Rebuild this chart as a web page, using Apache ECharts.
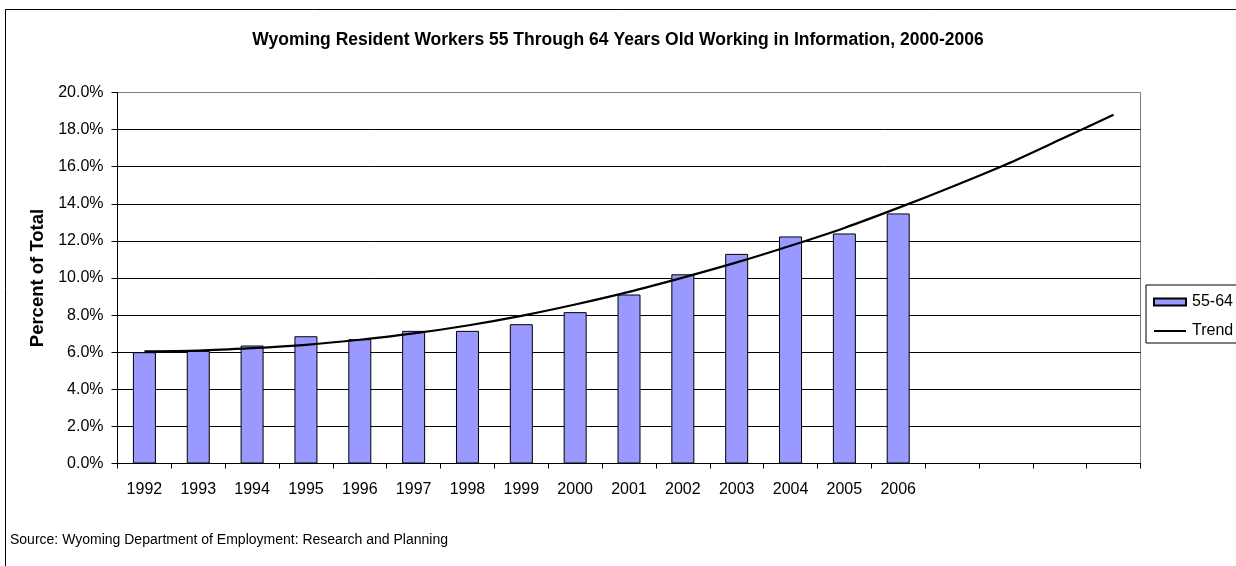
<!DOCTYPE html>
<html>
<head>
<meta charset="utf-8">
<script src="https://cdn.jsdelivr.net/npm/echarts@6/dist/echarts.min.js"></script>
<style>
html,body{margin:0;padding:0;background:#fff;}
#chart{width:1236px;height:566px;}
</style>
</head>
<body>
<div id="chart"></div>
<script>
// Data
var categories = ['1992','1993','1994','1995','1996','1997','1998','1999','2000','2001','2002','2003','2004','2005','2006','','','',''];
var share5564 = [6.0, 6.07, 6.36, 6.86, 6.70, 7.15, 7.15, 7.51, 8.16, 9.11, 10.2, 11.3, 12.24, 12.40, 13.48, null, null, null, null];
var trend = [6.05, 6.09, 6.22, 6.40, 6.67, 7.01, 7.44, 7.96, 8.57, 9.25, 10.02, 10.84, 11.74, 12.70, 13.78, 14.92, 16.12, 17.45, 18.80];
var yTicks = [0, 2, 4, 6, 8, 10, 12, 14, 16, 18, 20];

var FONT = '"Liberation Sans", Arial, sans-serif';
var chart = echarts.init(document.getElementById('chart'), null, {renderer: 'canvas'});

var splitColors = yTicks.map(function (v, i) { return i === yTicks.length - 1 ? '#808080' : '#000'; });

chart.setOption({
  backgroundColor: '#fff',
  animation: false,
  title: {
    text: 'Wyoming Resident Workers 55 Through 64 Years Old Working in Information, 2000-2006',
    left: 'center',
    top: 31,
    padding: 0,
    textStyle: {fontFamily: FONT, fontSize: 17.5, fontWeight: 'bold', color: '#000'}
  },
  legend: {
    orient: 'vertical',
    left: 1146,
    top: 285,
    padding: [9, 12, 4, 7],
    itemGap: 13,
    itemWidth: 32,
    itemHeight: 7,
    symbolKeepAspect: true,
    borderColor: '#000',
    borderWidth: 1,
    textStyle: {fontFamily: FONT, fontSize: 16, color: '#000', padding: [0, 0, 0, 1]},
    data: [
      {name: '55-64', icon: 'rect'},
      {name: 'Trend', icon: 'path://M0,0L32,0L32,2L0,2Z', itemStyle: {color: '#000', borderWidth: 0}}
    ]
  },
  grid: {
    left: 117.5,
    right: 95.5,
    top: 92.5,
    bottom: 102.5,
    show: true,
    borderColor: '#808080',
    borderWidth: 1,
    backgroundColor: '#fff'
  },
  xAxis: {
    type: 'category',
    data: categories,
    boundaryGap: true,
    axisLine: {lineStyle: {color: '#000', width: 1}},
    axisTick: {show: true, interval: 0, length: 5, lineStyle: {color: '#000'}},
    axisLabel: {interval: 0, margin: 18, fontFamily: FONT, fontSize: 16, color: '#000'},
    splitLine: {show: false}
  },
  yAxis: {
    type: 'value',
    min: 0,
    max: 20,
    interval: 2,
    name: 'Percent of Total',
    nameLocation: 'middle',
    nameGap: 63,
    nameTextStyle: {fontFamily: FONT, fontSize: 18.5, fontWeight: 'bold', color: '#000'},
    axisLine: {show: true, lineStyle: {color: '#000', width: 1}},
    axisTick: {show: true, length: 6, lineStyle: {color: '#000'}},
    axisLabel: {
      margin: 14,
      fontFamily: FONT, fontSize: 16, color: '#000',
      formatter: function (v) { return v.toFixed(1) + '%'; }
    },
    splitLine: {show: true, lineStyle: {color: splitColors, width: 1}}
  },
  series: [
    {
      name: '55-64',
      type: 'bar',
      data: share5564,
      barWidth: 23,
      itemStyle: {color: '#9999FF', borderColor: '#000', borderWidth: 1},
      z: 2
    },
    {
      name: 'Trend',
      type: 'line',
      data: trend,
      smooth: 0.3,
      symbol: 'none',
      showSymbol: false,
      lineStyle: {color: '#000', width: 2.2},
      itemStyle: {color: '#000'},
      z: 3
    }
  ],
  graphic: [
    {
      type: 'rect',
      shape: {x: 5.5, y: 9.5, width: 1300, height: 700},
      style: {fill: 'none', stroke: '#000', lineWidth: 1},
      silent: true,
      z: 100
    },
    {
      type: 'text',
      left: 10,
      top: 533,
      style: {text: 'Source: Wyoming Department of Employment: Research and Planning', font: '14px ' + FONT, fill: '#000'},
      silent: true
    }
  ]
});
</script>
</body>
</html>
